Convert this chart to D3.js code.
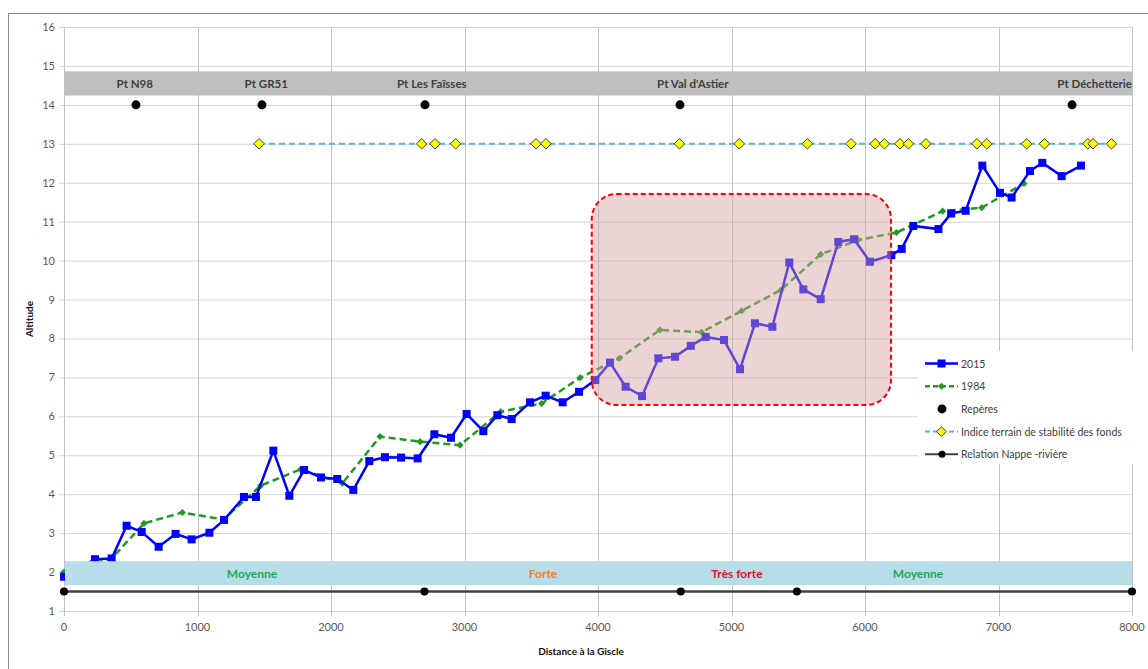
<!DOCTYPE html>
<html>
<head>
<meta charset="utf-8">
<script src="https://cdn.jsdelivr.net/npm/d3@7"></script>
<style>
  body { margin: 0; background: #fff; }
  svg { font-family: Lato, "Open Sans", sans-serif; }
</style>
</head>
<body>
<svg id="chart" width="1148" height="669"></svg>
<script>
// profil en long
const dist2015 = [0, 232, 357, 469, 582, 709, 836, 956, 1089, 1199, 1348, 1438, 1568, 1688, 1798, 1925, 2047, 2167, 2287, 2404,
  2525, 2649, 2774, 2899, 3016, 3141, 3246, 3353, 3491, 3608, 3735, 3858, 3980, 4090, 4207, 4330, 4452, 4577, 4695, 4807,
  4944, 5064, 5176, 5306, 5433, 5538, 5668, 5800, 5918, 6037, 6197, 6275, 6362, 6550, 6645, 6754, 6879, 7011, 7098, 7236,
  7328, 7473, 7618];
const alt2015 = [1.88, 2.33, 2.35, 3.19, 3.03, 2.65, 2.98, 2.84, 3.01, 3.34, 3.93, 3.93, 5.12, 3.96, 4.62, 4.43, 4.39, 4.11, 4.85, 4.95,
  4.94, 4.92, 5.54, 5.45, 6.06, 5.62, 6.03, 5.93, 6.36, 6.53, 6.36, 6.63, 6.93, 7.38, 6.76, 6.52, 7.49, 7.53, 7.81, 8.04,
  7.96, 7.21, 8.39, 8.30, 9.95, 9.26, 9.01, 10.48, 10.55, 9.97, 10.14, 10.30, 10.89, 10.81, 11.21, 11.28, 12.44, 11.74, 11.62, 12.30,
  12.51, 12.17, 12.44];

const dist1984 = [0, 357, 599, 886, 1193, 1473, 1773, 2085, 2367, 2667, 2966, 3271, 3578, 3865, 4160, 4464, 4776, 5076, 5368, 5668, 5950, 6235, 6582, 6874, 7191];
const alt1984 = [2.0, 2.35, 3.25, 3.53, 3.35, 4.22, 4.64, 4.28, 5.48, 5.35, 5.26, 6.12, 6.33, 6.99, 7.49, 8.22, 8.16, 8.71, 9.24, 10.16, 10.53, 10.72, 11.27, 11.36, 11.98];

const repereNames = ["Pt N98", "Pt GR51", "Pt Les Faïsses", "Pt Val d'Astier", "Pt Déchetterie"];
const repereDist = [539, 1483, 2704, 4614, 7551];
const repereLabelDist = [530, 1515, 2755, 4710, 7720];
const repereAlt = 14;

const indiceDist = [1461, 2679, 2779, 2934, 3536, 3610, 4610, 5058, 5568, 5895, 6076, 6145, 6262, 6325, 6456, 6838, 6912, 7211, 7344, 7669, 7708, 7846];
const indiceAlt = 13;

const relationDist = [0, 2700, 4620, 5490, 8000];
const relationAlt = 1.5;

const stabiliteNames = ["Moyenne", "Forte", "Très forte", "Moyenne"];
const stabiliteDist = [1408, 3588, 5041, 6397];
const stabiliteColors = ["#1fa85a", "#e8822e", "#e8102a", "#1fa85a"];

const xTicks = [0, 1000, 2000, 3000, 4000, 5000, 6000, 7000, 8000];
const yTicks = d3.range(1, 17);

// zone de stabilité très forte encadrée (distance, altitude)
const zoneDist = [3953, 6195];
const zoneAlt = [6.29, 11.71];

let svg = d3.select("#chart");
let margin = {"left": 64, "top": 27, "right": 16, "bottom": 58};
let width = 1148, height = 669;

let x = d3.scaleLinear().domain([0, 8000]).range([margin.left, width - margin.right]);
let y = d3.scaleLinear().domain([1, 16]).range([height - margin.bottom, margin.top]);

// cadre extérieur
svg.append("rect")
  .attr("x", 8.5).attr("y", 13.5)
  .attr("width", 1200).attr("height", 700)
  .attr("fill", "none").attr("stroke", "#8c8c8c");

// grille
let grid = svg.append("g");
grid.selectAll(".hg").data(yTicks).enter().append("line")
  .attr("x1", margin.left - 5).attr("x2", x(8000))
  .attr("y1", d => y(d) + 0.5).attr("y2", d => y(d) + 0.5)
  .attr("stroke", "#d4d4d4").attr("stroke-width", 1);
grid.selectAll(".vg").data(xTicks).enter().append("line")
  .attr("x1", d => Math.round(x(d)) + 0.5).attr("x2", d => Math.round(x(d)) + 0.5)
  .attr("y1", margin.top).attr("y2", y(1) + 5)
  .attr("stroke", "#c4c4c4").attr("stroke-width", 1);

// étiquettes des axes
svg.selectAll(".ytick").data(yTicks).enter().append("text")
  .attr("x", margin.left - 9).attr("y", d => y(d) + 4)
  .attr("text-anchor", "end")
  .attr("font-size", 11).attr("fill", "#595959")
  .text(d => d);
svg.selectAll(".xtick").data(xTicks).enter().append("text")
  .attr("x", d => x(d)).attr("y", y(1) + 20)
  .attr("text-anchor", "middle")
  .attr("font-size", 11).attr("fill", "#595959")
  .text(d => d);

svg.append("text")
  .attr("transform", `translate(33,${(y(16) + y(1)) / 2}) rotate(-90)`)
  .attr("text-anchor", "middle")
  .attr("font-size", 10).attr("font-weight", "bold").attr("fill", "#111")
  .text("Altitude");
svg.append("text")
  .attr("x", 581).attr("y", 655)
  .attr("text-anchor", "middle")
  .attr("font-size", 10).attr("font-weight", "bold").attr("fill", "#111")
  .text("Distance à la Giscle");

// bandeau des repères
svg.append("rect")
  .attr("x", x(0)).attr("width", x(8000) - x(0))
  .attr("y", y(14.86)).attr("height", y(14.24) - y(14.86))
  .attr("fill", "#bfbfbf");
svg.selectAll(".replab").data(repereNames).enter().append("text")
  .attr("x", (d, i) => x(repereLabelDist[i])).attr("y", y(14.55) + 4.5)
  .attr("text-anchor", "middle")
  .attr("font-size", 11.5).attr("font-weight", "bold").attr("fill", "#404040")
  .text(d => d);

let line = d3.line().x(d => x(d[0])).y(d => y(d[1]));

// indice terrain
svg.append("path")
  .datum(indiceDist.map(d => [d, indiceAlt]))
  .attr("d", line)
  .attr("fill", "none").attr("stroke", "#5ab8cf").attr("stroke-width", 2)
  .attr("stroke-dasharray", "6,4");
let diamond = d3.symbol().type(d3.symbolDiamond2);
svg.selectAll(".ind").data(indiceDist).enter().append("path")
  .attr("d", diamond.size(70)())
  .attr("transform", d => `translate(${x(d)},${y(indiceAlt)})`)
  .attr("fill", "#ffff00").attr("stroke", "#3a3a3a").attr("stroke-width", 1);

// repères
svg.selectAll(".rep").data(repereDist).enter().append("circle")
  .attr("cx", d => x(d)).attr("cy", y(repereAlt)).attr("r", 4.5)
  .attr("fill", "#000");

// 1984
svg.append("path")
  .datum(dist1984.map((d, i) => [d, alt1984[i]]))
  .attr("d", line)
  .attr("fill", "none").attr("stroke", "#1f9a1f").attr("stroke-width", 2.5)
  .attr("stroke-dasharray", "7,4");
svg.selectAll(".p84").data(dist1984).enter().append("path")
  .attr("d", d3.symbol().type(d3.symbolDiamond2).size(32)())
  .attr("transform", (d, i) => `translate(${x(d)},${y(alt1984[i])})`)
  .attr("fill", "#1f9a1f");

// 2015
svg.append("path")
  .datum(dist2015.map((d, i) => [d, alt2015[i]]))
  .attr("d", line)
  .attr("fill", "none").attr("stroke", "#0000ff").attr("stroke-width", 2.5);
svg.selectAll(".p15").data(dist2015).enter().append("rect")
  .attr("x", d => x(d) - 4).attr("y", (d, i) => y(alt2015[i]) - 4)
  .attr("width", 8).attr("height", 8)
  .attr("fill", "#0000ff");

// bandeau stabilité
svg.append("rect")
  .attr("x", x(0) + 1).attr("width", x(8000) - x(0) - 1)
  .attr("y", y(2.28)).attr("height", y(1.66) - y(2.28))
  .attr("fill", "#b7dde8");
svg.selectAll(".stab").data(stabiliteNames).enter().append("text")
  .attr("x", (d, i) => x(stabiliteDist[i])).attr("y", y(1.97) + 4.5)
  .attr("text-anchor", "middle")
  .attr("font-size", 12).attr("font-weight", "bold")
  .attr("fill", (d, i) => stabiliteColors[i])
  .text(d => d);

// relation nappe - rivière
svg.append("path")
  .datum(relationDist.map(d => [d, relationAlt]))
  .attr("d", line)
  .attr("fill", "none").attr("stroke", "#404040").attr("stroke-width", 2.5);
svg.selectAll(".rel").data(relationDist).enter().append("circle")
  .attr("cx", d => x(d)).attr("cy", y(relationAlt)).attr("r", 4)
  .attr("fill", "#000");

// zone encadrée
svg.append("rect")
  .attr("x", x(zoneDist[0])).attr("y", y(zoneAlt[1]))
  .attr("width", x(zoneDist[1]) - x(zoneDist[0]))
  .attr("height", y(zoneAlt[0]) - y(zoneAlt[1]))
  .attr("rx", 25).attr("ry", 25)
  .attr("fill", "rgb(212,160,160)").attr("fill-opacity", 0.45)
  .attr("stroke", "#ff0000").attr("stroke-width", 2)
  .attr("stroke-dasharray", "5,3");

// légende
let legend = svg.append("g").attr("transform", "translate(918,351)");
legend.append("rect")
  .attr("width", 230).attr("height", 113)
  .attr("fill", "#fff");
let items = ["2015", "1984", "Repères", "Indice terrain de stabilité des fonds", "Relation Nappe -rivière"];
let rowY = i => 12.5 + i * 22.7;
items.forEach(function(t, i){
  let g = legend.append("g").attr("transform", `translate(0,${rowY(i)})`);
  if (i === 0){
    g.append("line").attr("x1", 7).attr("x2", 40).attr("stroke", "#0000ff").attr("stroke-width", 2.5);
    g.append("rect").attr("x", 19.5).attr("y", -4).attr("width", 8).attr("height", 8).attr("fill", "#0000ff");
  } else if (i === 1){
    g.append("line").attr("x1", 7).attr("x2", 40).attr("stroke", "#1f9a1f").attr("stroke-width", 2.5).attr("stroke-dasharray", "5,3");
    g.append("path").attr("d", d3.symbol().type(d3.symbolDiamond2).size(32)()).attr("transform", "translate(23.5,0)").attr("fill", "#1f9a1f");
  } else if (i === 2){
    g.append("circle").attr("cx", 24).attr("r", 4.5).attr("fill", "#000");
  } else if (i === 3){
    g.append("line").attr("x1", 7).attr("x2", 40).attr("stroke", "#5ab8cf").attr("stroke-width", 2).attr("stroke-dasharray", "5,3");
    g.append("path").attr("d", diamond.size(60)()).attr("transform", "translate(23.5,0)").attr("fill", "#ffff00").attr("stroke", "#3a3a3a");
  } else {
    g.append("line").attr("x1", 7).attr("x2", 40).attr("stroke", "#404040").attr("stroke-width", 2);
    g.append("circle").attr("cx", 24).attr("r", 3.5).attr("fill", "#000");
  }
  g.append("text")
    .attr("x", 43).attr("y", 4)
    .attr("font-size", 10.5).attr("fill", "#404040")
    .text(t);
});
</script>
</body>
</html>
